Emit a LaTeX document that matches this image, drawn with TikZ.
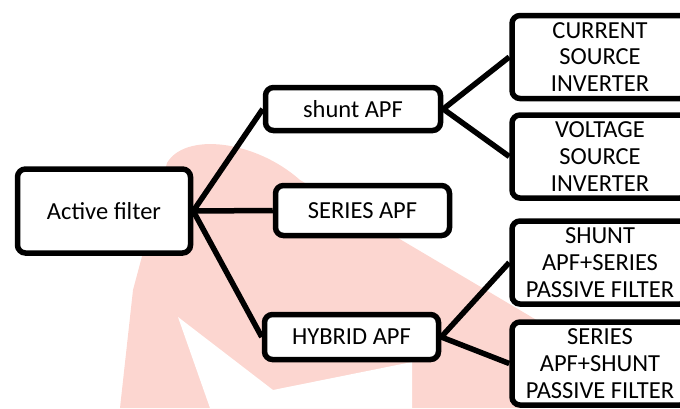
\documentclass[tikz,border=0pt]{standalone}
\usepackage{fontspec}
\setmainfont{Carlito}
\definecolor{logopink}{RGB}{252,214,208}

\begin{document}
\begin{tikzpicture}
  [x=1pt,y=-1pt,line width=5.5pt,
   box/.style={draw,fill=white,rounded corners=8pt,align=center,inner sep=0pt,
     font=\fontsize{24.5}{26.7}\selectfont},
   leaf/.style={box,minimum width=176pt,minimum height=83pt}]
  \useasboundingbox (0,0) rectangle (680,408);

  \fill[logopink] (120,408) -- (133,290) -- (167,163)
    .. controls (185,132) and (255,140) .. (300,180) -- (545,325) -- (545,408) -- cycle;
  \fill[white] (210,408) -- (178,317) -- (273,390) -- (412,362) -- (412,408) -- cycle;

  \node[box,minimum width=173pt,minimum height=84pt] (active) at (104,211) {Active filter};

  \node[box,minimum width=175pt,minimum height=43pt] (shunt)  at (353,109)   {shunt APF};
  \node[box,minimum width=174pt,minimum height=50pt] (series) at (362.5,210.5) {SERIES APF};
  \node[box,minimum width=174pt,minimum height=45pt] (hybrid) at (351.5,337) {HYBRID APF};

  \node[leaf] (csi) at (600,57)    {CURRENT\\SOURCE\\INVERTER};
  \node[leaf] (vsi) at (600,156.5) {VOLTAGE\\SOURCE\\INVERTER};
  \node[leaf] (shpas) at (600,262.5) {SHUNT\\APF+SERIES\\PASSIVE FILTER};
  \node[leaf] (sepas) at (600,363.5) {SERIES\\APF+SHUNT\\PASSIVE FILTER};

  \draw (active.east) -- (shunt.west);
  \draw (active.east) -- (series.west);
  \draw (active.east) -- (hybrid.west);
  \draw (shunt.east) -- (csi.west);
  \draw (shunt.east) -- (vsi.west);
  \draw (hybrid.east) -- (shpas.west);
  \draw (hybrid.east) -- (sepas.west);
\end{tikzpicture}
\end{document}
